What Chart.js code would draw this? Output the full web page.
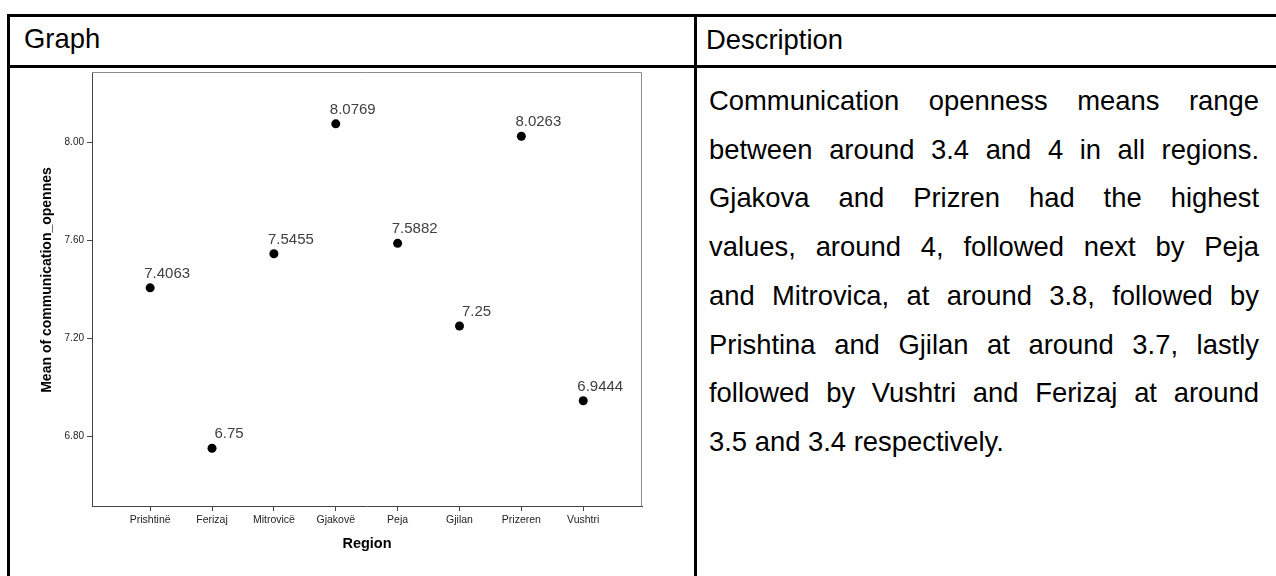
<!DOCTYPE html>
<html><head><meta charset="utf-8">
<script src="https://cdn.jsdelivr.net/npm/chart.js@4/dist/chart.umd.min.js"></script>
<style>
html,body{margin:0;padding:0;width:1276px;height:576px;overflow:hidden;background:#fff;font-family:"Liberation Sans",Arial,sans-serif;color:#000;}
.ln{position:absolute;background:#000;}
.hd{position:absolute;font-size:27.4px;line-height:48.7px;white-space:nowrap;}
.body{position:absolute;left:709px;top:77px;width:550px;font-size:27.4px;line-height:48.7px;}
.body div{text-align:justify;text-align-last:justify;}
.body div.last{text-align-last:left;}
canvas{position:absolute;left:0;top:0;}
</style>
</head><body>
<div class="ln" style="left:7px;top:14px;width:1269px;height:2.5px"></div>
<div class="ln" style="left:7px;top:65px;width:1269px;height:2.5px"></div>
<div class="ln" style="left:7px;top:14px;width:2.5px;height:562px"></div>
<div class="ln" style="left:694px;top:14px;width:2.5px;height:562px"></div>
<div class="hd" style="left:24px;top:15px">Graph</div>
<div class="hd" style="left:706px;top:16px">Description</div>
<div class="body">
<div>Communication openness means range</div>
<div>between around 3.4 and 4 in all regions.</div>
<div>Gjakova and Prizren had the highest</div>
<div>values, around 4, followed next by Peja</div>
<div>and Mitrovica, at around 3.8, followed by</div>
<div>Prishtina and Gjilan at around 3.7, lastly</div>
<div>followed by Vushtri and Ferizaj at around</div>
<div class="last">3.5 and 3.4 respectively.</div>
</div>
<canvas id="c" width="1276" height="576"></canvas>
<script>
const categories = ['Prishtinë','Ferizaj','Mitrovicë','Gjakovë','Peja','Gjilan','Prizeren','Vushtri'];
const means = [7.4063, 6.75, 7.5455, 8.0769, 7.5882, 7.25, 8.0263, 6.9444];
const meanLabels = ['7.4063','6.75','7.5455','8.0769','7.5882','7.25','8.0263','6.9444'];
const yTicks = [6.80, 7.20, 7.60, 8.00];
const yTitle = 'Mean of communication_opennes';
const xTitle = 'Region';

const FAM = '"Liberation Sans", Arial, sans-serif';

const extras = {
  id: 'extras',
  beforeDatasetsDraw(chart) {
    const {ctx, chartArea: a} = chart;
    ctx.save();
    ctx.strokeStyle = '#8c8c8c';
    ctx.lineWidth = 1;
    ctx.beginPath();
    ctx.moveTo(a.left, a.top + 0.5);
    ctx.lineTo(a.right - 0.5, a.top + 0.5);
    ctx.lineTo(a.right - 0.5, a.bottom);
    ctx.stroke();
    ctx.restore();
  },
  afterDatasetsDraw(chart) {
    const {ctx} = chart;
    const meta = chart.getDatasetMeta(0);
    ctx.save();
    ctx.font = '15px ' + FAM;
    ctx.fillStyle = '#404040';
    ctx.textAlign = 'center';
    ctx.textBaseline = 'alphabetic';
    meta.data.forEach((p, i) => {
      ctx.fillText(meanLabels[i], p.x + 17, p.y - 10);
    });
    // y axis title
    ctx.translate(47, 280);
    ctx.rotate(-Math.PI / 2);
    ctx.font = 'bold 14px ' + FAM;
    ctx.fillStyle = '#000';
    ctx.textBaseline = 'middle';
    ctx.fillText(yTitle, 0, 0);
    ctx.restore();
  }
};

new Chart(document.getElementById('c'), {
  type: 'scatter',
  data: {
    datasets: [{
      data: means.map((v, i) => ({x: i, y: v})),
      pointRadius: 4.5,
      pointHoverRadius: 4.5,
      backgroundColor: '#000',
      borderWidth: 0
    }]
  },
  options: {
    responsive: false,
    animation: false,
    devicePixelRatio: 1,
    layout: {padding: {left: 0, top: 72, right: 634, bottom: 0}},
    plugins: {legend: {display: false}, tooltip: {enabled: false}},
    scales: {
      x: {
        type: 'linear', min: -0.94, max: 7.95,
        afterBuildTicks: s => { s.ticks = categories.map((c, i) => ({value: i})); },
        afterFit: s => { s.height = 70; },
        ticks: {callback: (v) => categories[v], font: {family: FAM, size: 10.5}, color: '#222', padding: 3, autoSkip: false, maxRotation: 0},
        grid: {drawOnChartArea: false, drawTicks: true, tickLength: 5, color: '#444'},
        border: {color: '#444'},
        title: {display: true, text: xTitle, font: {family: FAM, size: 14.5, weight: 'bold'}, color: '#000', padding: {top: 0, bottom: 23}}
      },
      y: {
        min: 6.514, max: 8.289,
        afterBuildTicks: s => { s.ticks = yTicks.map(v => ({value: v})); },
        afterFit: s => { s.width = 92; },
        ticks: {callback: (v) => v.toFixed(2), font: {family: FAM, size: 10}, color: '#222', padding: 3},
        grid: {drawOnChartArea: false, drawTicks: true, tickLength: 5, color: '#444'},
        border: {color: '#444'}
      }
    }
  },
  plugins: [extras]
});
</script>
</body></html>
